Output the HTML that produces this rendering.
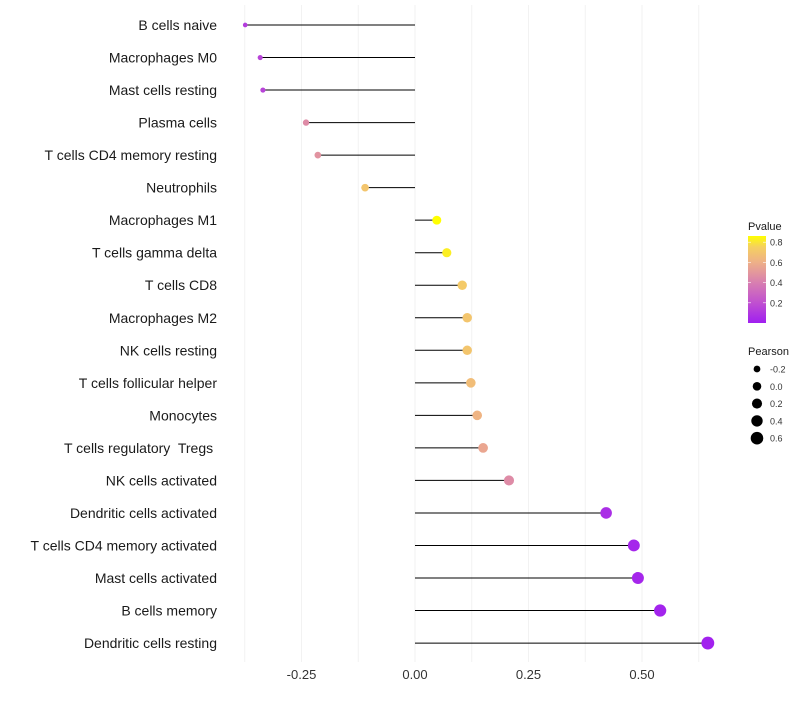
<!DOCTYPE html>
<html><head><meta charset="utf-8"><style>
body{margin:0;background:#fff}
svg text{font-family:"Liberation Sans",sans-serif;white-space:pre}
</style></head><body>
<svg id="chart" width="800" height="700" xmlns="http://www.w3.org/2000/svg">
<g id="grid"></g>
<g id="marks"></g>
<g id="ylabels"></g>
<g id="xlabels"></g>
<g id="legend"></g>
</svg>
<script>
const categories=["B cells naive","Macrophages M0","Mast cells resting","Plasma cells","T cells CD4 memory resting","Neutrophils","Macrophages M1","T cells gamma delta","T cells CD8","Macrophages M2","NK cells resting","T cells follicular helper","Monocytes","T cells regulatory  Tregs ","NK cells activated","Dendritic cells activated","T cells CD4 memory activated","Mast cells activated","B cells memory","Dendritic cells resting"];
const pearson=[-0.374,-0.341,-0.335,-0.240,-0.214,-0.110,0.048,0.070,0.104,0.115,0.115,0.123,0.137,0.150,0.207,0.421,0.482,0.491,0.540,0.645];
const pvalues=[0.12,0.15,0.15,0.45,0.48,0.70,0.86,0.82,0.72,0.70,0.70,0.66,0.62,0.56,0.45,0.06,0.03,0.03,0.02,0.01];
const xTicks=[-0.25,0,0.25,0.5];
const xTickLabels=["-0.25","0.00","0.25","0.50"];
const gridVals=[-0.375,-0.25,-0.125,0,0.125,0.25,0.375,0.5,0.625];
const legendP=[0.8,0.6,0.4,0.2];
const legendR=[-0.2,0,0.2,0.4,0.6];
const NS="http://www.w3.org/2000/svg";
const x=v=>415+v*454;
const y=i=>25+i*32.53;
const r=v=>Math.sqrt(Math.max(2,18.5+35*v));
const stops=[[0,[160,31,240]],[0.2,[192,80,208]],[0.4,[216,127,176]],[0.6,[238,176,136]],[0.75,[245,208,96]],[0.86,[255,255,0]]];
function col(p){p=Math.max(0,Math.min(0.86,p));for(let i=1;i<stops.length;i++){if(p<=stops[i][0]){const a=stops[i-1],b=stops[i],t=(p-a[0])/(b[0]-a[0]);const c=a[1].map((v,k)=>Math.round(v+(b[1][k]-v)*t));return `rgb(${c})`;}}return "rgb(255,255,0)";}
function mk(tag,at,parent){const e=document.createElementNS(NS,tag);for(const k in at)e.setAttribute(k,at[k]);document.getElementById(parent).appendChild(e);return e;}
gridVals.forEach(g=>{const l=mk('line',{x1:x(g),x2:x(g),y1:5,y2:662,stroke:'#f2f2f2','stroke-width':1},'grid');

});
categories.forEach((c,i)=>{
const s=mk('line',{x1:x(0),x2:x(pearson[i]),y1:y(i),y2:y(i),stroke:'#000','stroke-width':1},'marks');


const d=mk('circle',{cx:x(pearson[i]),cy:y(i),r:r(pearson[i]),fill:col(pvalues[i])},'marks');


const t=mk('text',{x:217,y:y(i)+5,'text-anchor':'end','font-size':14,fill:'#1a1a1a'},'ylabels');
t.textContent=c;

});
xTicks.forEach((v,i)=>{const t=mk('text',{x:x(v),y:679,'text-anchor':'middle','font-size':13,fill:'#333'},'xlabels');
t.textContent=xTickLabels[i];

});
const lt=mk('text',{x:748,y:230,'font-size':11,fill:'#1a1a1a'},'legend');lt.textContent='Pvalue';


const defs=mk('defs',{},'legend');
const lg=document.createElementNS(NS,'linearGradient');lg.setAttribute('id','pg');lg.setAttribute('x1','0');lg.setAttribute('y1','1');lg.setAttribute('x2','0');lg.setAttribute('y2','0');defs.appendChild(lg);
stops.forEach(s=>{const st=document.createElementNS(NS,'stop');st.setAttribute('offset',s[0]/0.86);st.setAttribute('stop-color',`rgb(${s[1]})`);lg.appendChild(st);});
const pb=v=>323-v*101;
const bar=mk('rect',{x:748,y:236,width:18,height:87,fill:'url(#pg)'},'legend');


legendP.forEach(p=>{const t=mk('text',{x:770,y:pb(p)+3.5,'font-size':9,fill:'#333'},'legend');t.textContent=p.toFixed(1);


mk('line',{x1:748,x2:751,y1:pb(p),y2:pb(p),stroke:'#fff','stroke-width':0.6},'legend');
mk('line',{x1:763,x2:766,y1:pb(p),y2:pb(p),stroke:'#fff','stroke-width':0.6},'legend');});
const pt=mk('text',{x:748,y:355,'font-size':11,fill:'#1a1a1a'},'legend');pt.textContent='Pearson';


legendR.forEach((v,i)=>{const cy=369+i*17.3;
const c=mk('circle',{cx:757,cy:cy,r:r(v),fill:'#000'},'legend');


const t=mk('text',{x:770,y:cy+3.5,'font-size':9,fill:'#333'},'legend');t.textContent=v.toFixed(1);

});
</script>
</body></html>
